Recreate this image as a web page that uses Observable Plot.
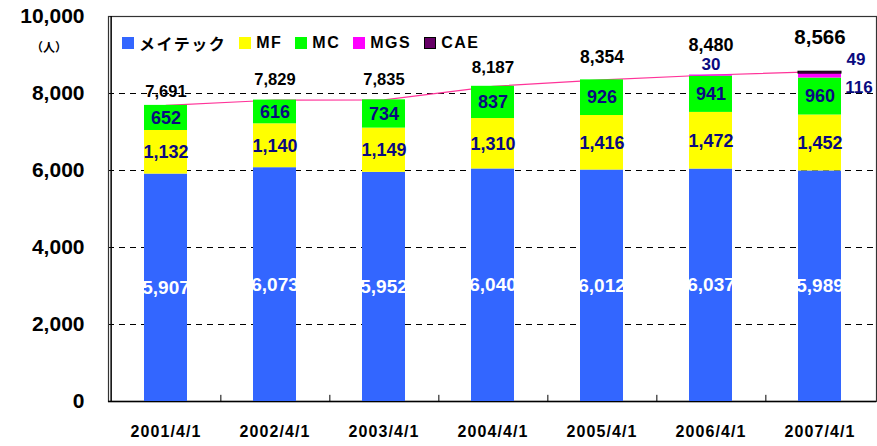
<!DOCTYPE html>
<html>
<head>
<meta charset="utf-8">
<script src="https://cdn.jsdelivr.net/npm/d3@7"></script>
<script src="https://cdn.jsdelivr.net/npm/@observablehq/plot@0.6"></script>
<style>
  body { margin: 0; background: white; }
  #wrap { position: relative; width: 877px; height: 446px; font-family: "Liberation Sans", Arial, "Noto Sans CJK JP", sans-serif; }
  #legend { position: absolute; left: 122px; top: 31px; display: flex; align-items: center; font-weight: bold; font-size: 16px; letter-spacing: 1.5px; font-family: "Liberation Sans", Arial, "Noto Sans CJK JP", sans-serif; }
  .item { display: flex; align-items: center; margin-right: 13px; }
  .sw { width: 12px; height: 12px; margin-right: 5px; box-sizing: border-box; }
  #unit { position: absolute; left: 31px; top: 38px; font-size: 12px; font-weight: bold; font-family: "Noto Sans CJK JP", sans-serif; }
  g[aria-label="x-axis tick label"] text { letter-spacing: 1.1px; }
</style>
</head>
<body>
<div id="wrap"></div>
<script>
const dates = ["2001/4/1","2002/4/1","2003/4/1","2004/4/1","2005/4/1","2006/4/1","2007/4/1"];
const seriesNames = ["メイテック","MF","MC","MGS","CAE"];
const meitec = [5907,6073,5952,6040,6012,6037,5989];
const mf = [1132,1140,1149,1310,1416,1472,1452];
const mc = [652,616,734,837,926,941,960];
const mgs = [0,0,0,0,0,30,116];
const cae = [0,0,0,0,0,0,49];
const totals = [7691,7829,7835,8187,8354,8480,8566];
const yTicks = [0,2000,4000,6000,8000,10000];
const unitLabel = "（人）";

const colors = ["#3366FF","#FFFF00","#00FF00","#FF00FF","#660066"];
const seriesValues = [meitec, mf, mc, mgs, cae];

// build stacked rows
const rows = [];
dates.forEach((d, i) => {
  let cum = 0;
  seriesNames.forEach((s, k) => {
    const v = seriesValues[k][i];
    if (v > 0) rows.push({date: d, series: s, k, i, value: v, y1: cum, y2: cum + v, mid: cum + v / 2});
    cum += v;
  });
});
const totalRows = dates.map((d, i) => ({date: d, total: totals[i], i}));

const W = 877, H = 446, ML = 108, MR = 1, MT = 16, MB = 45;
const bw = (W - ML - MR) / dates.length;
const font = "'Liberation Sans', Arial, 'Noto Sans CJK JP', sans-serif";
const totalSize = [16.5,16.5,16.5,17,17.5,18,20.5];
const totalDy = [-14,-20,-20,-19,-22,-30,-34];
const fmt = d3.format(",");

const blue = rows.filter(r => r.k === 0);
const mids = rows.filter(r => r.k === 1 || r.k === 2);
const small = rows.filter(r => r.k >= 3);

const chart = Plot.plot({
  width: W, height: H,
  marginLeft: ML, marginRight: MR, marginTop: MT, marginBottom: MB,
  style: {fontFamily: font, background: "white", overflow: "visible"},
  x: {domain: dates, paddingInner: 0.61, paddingOuter: 0.305, label: null},
  y: {domain: [0, 10000], label: null},
  color: {domain: seriesNames, range: colors},
  marks: [
    Plot.gridY(yTicks.filter(t => t > 0 && t < 10000), {stroke: "black", strokeOpacity: 1, strokeDasharray: "6,5", strokeWidth: 1}),
    Plot.frame({stroke: "#333", strokeWidth: 1.2}),
    Plot.ruleX([dates[0]], {dx: -bw / 2, y1: 0, y2: 10000, stroke: "black", strokeWidth: 1.5}),
    Plot.ruleY([0], {stroke: "black", strokeWidth: 1.5}),
    Plot.ruleX(dates.slice(0, -1), {x: d => d, dx: bw / 2, y1: 0, y2: 160, stroke: "black", strokeWidth: 1}),
    Plot.line(totalRows, {x: "date", y: "total", stroke: "#FF3399", strokeWidth: 1.2}),
    Plot.barY(rows, {x: "date", y1: "y1", y2: "y2", fill: "series", stroke: r => r.k === 4 ? "black" : "none", strokeWidth: 1}),
    Plot.text(blue, {x: "date", y: "mid", text: r => fmt(r.value), fill: "white", fontSize: 19, fontWeight: "bold"}),
    Plot.text(mids, {x: "date", y: "mid", text: r => fmt(r.value), fill: "#0A0A80", fontSize: 18, fontWeight: "bold"}),
    // small series labels
    Plot.text(small.filter(r => r.i === 5), {x: "date", y: "y2", text: r => fmt(r.value), dy: -10, fill: "#0A0A80", fontSize: 17, fontWeight: "bold"}),
    Plot.text(small.filter(r => r.i === 6 && r.k === 4), {x: "date", y: "y2", text: r => fmt(r.value), dx: 36, dy: -12, fill: "#0A0A80", fontSize: 17, fontWeight: "bold"}),
    Plot.text(small.filter(r => r.i === 6 && r.k === 3), {x: "date", y: "y2", text: r => fmt(r.value), dx: 39, dy: 14, fill: "#0A0A80", fontSize: 17, fontWeight: "bold"}),
    ...totalRows.map((t, i) => Plot.text([t], {x: "date", y: "total", text: r => fmt(r.total), dy: totalDy[i], fontSize: totalSize[i], fontWeight: "bold", fill: "black"})),
    Plot.axisY({ticks: yTicks, tickSize: 0, tickPadding: 24, tickFormat: fmt, fontSize: 21, fontWeight: "bold", fill: "black"}),
    Plot.axisX({tickSize: 0, tickPadding: 24, fontSize: 16, fontWeight: "bold", fill: "black"})
  ]
});

const wrap = document.getElementById("wrap");
wrap.appendChild(chart);

const legend = document.createElement("div");
legend.id = "legend";
seriesNames.forEach((s, k) => {
  const it = document.createElement("div");
  it.className = "item";
  const sw = document.createElement("div");
  sw.className = "sw";
  sw.style.background = colors[k];
  if (k === 4) sw.style.border = "1.5px solid black";
  const tx = document.createElement("span");
  tx.textContent = s;
  it.appendChild(sw); it.appendChild(tx);
  legend.appendChild(it);
});
wrap.appendChild(legend);

const unit = document.createElement("div");
unit.id = "unit";
unit.textContent = unitLabel;
wrap.appendChild(unit);
</script>
</body>
</html>
